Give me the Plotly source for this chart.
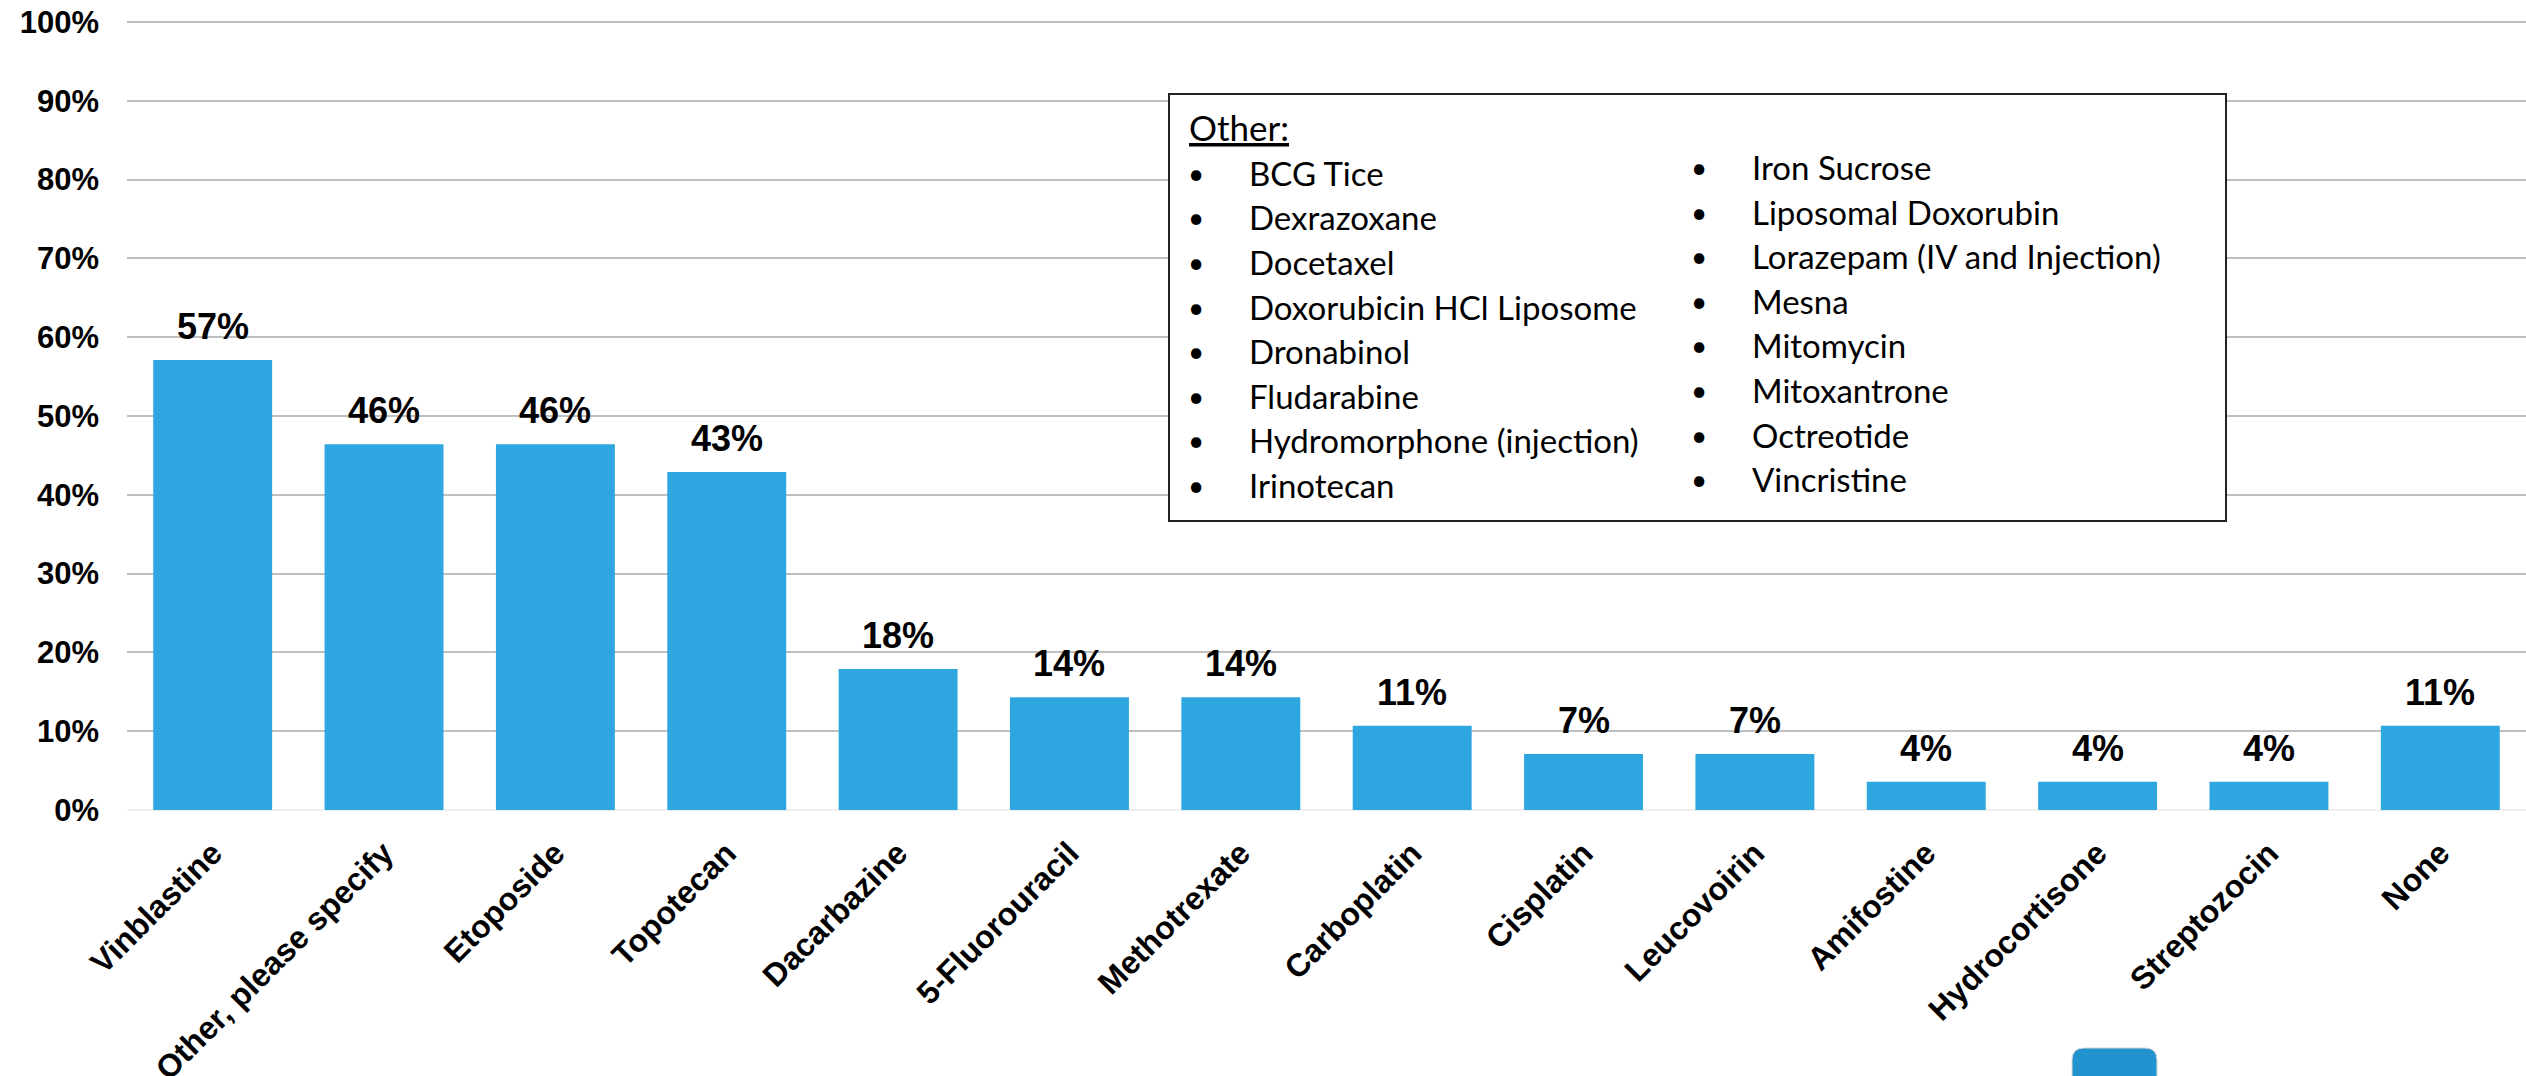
import plotly.graph_objects as go

# ---------------- data ----------------
categories = ["Vinblastine", "Other, please specify", "Etoposide", "Topotecan",
              "Dacarbazine", "5-Fluorouracil", "Methotrexate", "Carboplatin",
              "Cisplatin", "Leucovoirin", "Amifostine", "Hydrocortisone",
              "Streptozocin", "None"]
values = [57.1, 46.4, 46.4, 42.9, 17.9, 14.3, 14.3, 10.7, 7.1, 7.1, 3.6, 3.6, 3.6, 10.7]
value_labels = ["57%", "46%", "46%", "43%", "18%", "14%", "14%", "11%",
                "7%", "7%", "4%", "4%", "4%", "11%"]
y_tick_vals = [0, 10, 20, 30, 40, 50, 60, 70, 80, 90, 100]
y_tick_text = ["0%", "10%", "20%", "30%", "40%", "50%", "60%", "70%", "80%", "90%", "100%"]

other_title = "Other:"
other_left = ["BCG Tice", "Dexrazoxane", "Docetaxel", "Doxorubicin HCl Liposome",
              "Dronabinol", "Fludarabine", "Hydromorphone (injection)", "Irinotecan"]
other_right = ["Iron Sucrose", "Liposomal Doxorubin", "Lorazepam (IV and Injection)",
               "Mesna", "Mitomycin", "Mitoxantrone", "Octreotide", "Vincristine"]

# ---------------- layout geometry ----------------
W, H = 2526, 1076
ML, MR, MT, MB = 127, 0, 14, 266
PW = W - ML - MR
PH = H - MT - MB


def px(x):
    """page x (pixels) -> paper x"""
    return (x - ML) / PW


def py(y):
    """page y (pixels) -> paper y"""
    return (H - MB - y) / PH


BAR_COLOR = "#2EA6DF"
FONT = "Liberation Sans, Arial, sans-serif"
BOX_FONT = "Lato, Open Sans, sans-serif"

fig = go.Figure()
fig.add_trace(go.Bar(
    x=categories, y=values,
    marker=dict(color=BAR_COLOR, line=dict(width=0)),
    hoverinfo="x+y",
))

annotations = []
for c, v, t in zip(categories, values, value_labels):
    annotations.append(dict(
        x=c, y=v, xref="x", yref="y", text=t, showarrow=False,
        yanchor="bottom", yshift=11,
        font=dict(family=FONT, size=36, color="black", weight="bold"),
    ))

# ---------------- "Other" text box ----------------
box_x0, box_x1, box_y0, box_y1 = 1169, 2226, 94, 521
shapes = [dict(
    type="rect", xref="paper", yref="paper",
    x0=px(box_x0), x1=px(box_x1), y0=py(box_y1), y1=py(box_y0),
    line=dict(color="#222222", width=2), fillcolor="white", layer="above",
)]

annotations.append(dict(
    x=px(1187), y=py(127), xref="paper", yref="paper",
    text="<u>" + other_title + "</u>", showarrow=False,
    xanchor="left", yanchor="middle",
    font=dict(family=BOX_FONT, size=35, color="black"),
))

row_gap = 44.6
for i, name in enumerate(other_left):
    yc = 172.7 + i * row_gap
    annotations.append(dict(x=px(1196), y=py(yc), xref="paper", yref="paper",
                            text="•", showarrow=False, xanchor="center", yanchor="middle",
                            font=dict(family=BOX_FONT, size=28, color="black")))
    annotations.append(dict(x=px(1247), y=py(yc), xref="paper", yref="paper",
                            text=name, showarrow=False, xanchor="left", yanchor="middle",
                            font=dict(family=BOX_FONT, size=33, color="black")))
for i, name in enumerate(other_right):
    yc = 167 + i * row_gap
    annotations.append(dict(x=px(1699), y=py(yc), xref="paper", yref="paper",
                            text="•", showarrow=False, xanchor="center", yanchor="middle",
                            font=dict(family=BOX_FONT, size=28, color="black")))
    annotations.append(dict(x=px(1750), y=py(yc), xref="paper", yref="paper",
                            text=name, showarrow=False, xanchor="left", yanchor="middle",
                            font=dict(family=BOX_FONT, size=33, color="black")))

# ---------------- small blue rounded square at bottom ----------------
bx0, bx1, by0, by1, r = 2072, 2157, 1048, 1090, 12
path = (f"M {px(bx0)},{py(by1)} L {px(bx0)},{py(by0 + r)} "
        f"Q {px(bx0)},{py(by0)} {px(bx0 + r)},{py(by0)} "
        f"L {px(bx1 - r)},{py(by0)} Q {px(bx1)},{py(by0)} {px(bx1)},{py(by0 + r)} "
        f"L {px(bx1)},{py(by1)} Z")
shapes.append(dict(type="path", xref="paper", yref="paper", path=path,
                   fillcolor="#2293CF", line=dict(color="#D8D8D8", width=1), layer="above"))

fig.update_layout(
    width=W, height=H,
    margin=dict(l=ML, r=MR, t=MT, b=MB, pad=0, autoexpand=False),
    paper_bgcolor="white", plot_bgcolor="white",
    bargap=0.306,
    showlegend=False,
    annotations=annotations,
    shapes=shapes,
    xaxis=dict(
        type="category",
        tickangle=-45,
        tickfont=dict(family=FONT, size=32, color="black", weight="bold"),
        showgrid=False, showline=False, ticks="",
        ticklabelstandoff=17, automargin=False,
        ticklabeloverflow="allow",
    ),
    yaxis=dict(
        range=[0, 101],
        tickvals=y_tick_vals, ticktext=y_tick_text,
        tickfont=dict(family=FONT, size=31, color="black", weight="bold"),
        showgrid=True, gridcolor="#BFBFBF", gridwidth=2,
        zeroline=True, zerolinecolor="#EFEFEF", zerolinewidth=2,
        showline=False, ticks="",
        ticklabelstandoff=27, automargin=False,
        ticklabeloverflow="allow",
    ),
)

fig.write_html("out.html",
               config={"displayModeBar": False},
               post_script="document.body.style.margin='0px';"
                           "document.body.style.overflow='hidden';")
